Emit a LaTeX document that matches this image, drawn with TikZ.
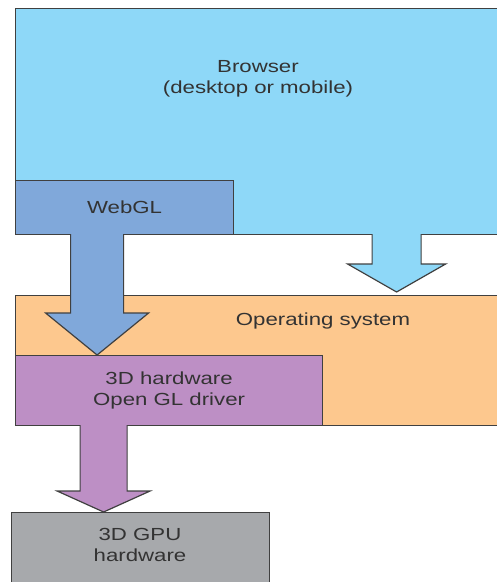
\documentclass[tikz,border=0pt]{standalone}
\usepackage{fontspec}
\setmainfont{Liberation Sans}[FakeStretch=1.27]
\usetikzlibrary{calc}

\definecolor{browserblue}{HTML}{8ED8F8}
\definecolor{webglblue}{HTML}{80A8DA}
\definecolor{osorange}{HTML}{FDC88E}
\definecolor{driverpurple}{HTML}{BD8FC5}
\definecolor{gpugray}{HTML}{A7A9AC}

\begin{document}
\begin{tikzpicture}[x=1pt,y=-1pt]

	\tikzstyle layer box=[draw=black!75, line width=1.2pt, anchor=north west, inner sep=0pt];
	\tikzstyle layer text=[text=black!80, align=center, font=\fontsize{17.5}{21}\selectfont];
	\tikzstyle block arrow=[draw=black!75, line width=1.2pt, line join=miter];

	\clip (0,0) rectangle (497,582);

	% layers
	\node[layer box, fill=browserblue, minimum width=495, minimum height=226] (browser) at (15,8) {};
	\node[layer box, fill=webglblue, minimum width=218, minimum height=54] (webgl) at (15,180) {};
	\node[layer box, fill=osorange, minimum width=495, minimum height=130] (os) at (15,295) {};
	\node[layer box, fill=driverpurple, minimum width=307, minimum height=70] (driver) at (15,355) {};
	\node[layer box, fill=gpugray, minimum width=258, minimum height=90] (gpu) at (11,512) {};

	% texts
	\node[layer text] (browser text) at (258,79) {Browser\\(desktop or mobile)};
	\node[layer text] (webgl text) at (webgl.center) {WebGL};
	\node[layer text] (os text) at (323,321) {Operating system};
	\node[layer text] (driver text) at (driver.center) {3D hardware\\Open GL driver};
	\node[layer text] (gpu text) at (140,545) {3D GPU\\hardware};

	% arrow ends
	\coordinate (webgl from) at ([xshift=-27.5pt,yshift=1pt]webgl.south);
	\coordinate (webgl to) at (webgl from |- driver.north);
	\coordinate (browser from) at ([xshift=133.5pt,yshift=1pt]browser.south);
	\coordinate (browser to) at ([yshift=3pt]browser from |- os.north);
	\coordinate (driver from) at ([xshift=-65.5pt,yshift=1pt]driver.south);
	\coordinate (driver to) at (driver from |- gpu.north);

	\foreach \from/\to/\col/\s/\h/\l in {webgl from/webgl to/webglblue/26.5/51.5/42,
		browser from/browser to/browserblue/24.5/49/28,
		driver from/driver to/driverpurple/23.5/46.5/21}
		\draw[block arrow, fill=\col] ($(\from)+(-\s,0)$) -- ($(\to)+(-\s,-\l)$)
			-- ($(\to)+(-\h,-\l)$) -- (\to) -- ($(\to)+(\h,-\l)$)
			-- ($(\to)+(\s,-\l)$) -- ($(\from)+(\s,0)$);

\end{tikzpicture}
\end{document}
